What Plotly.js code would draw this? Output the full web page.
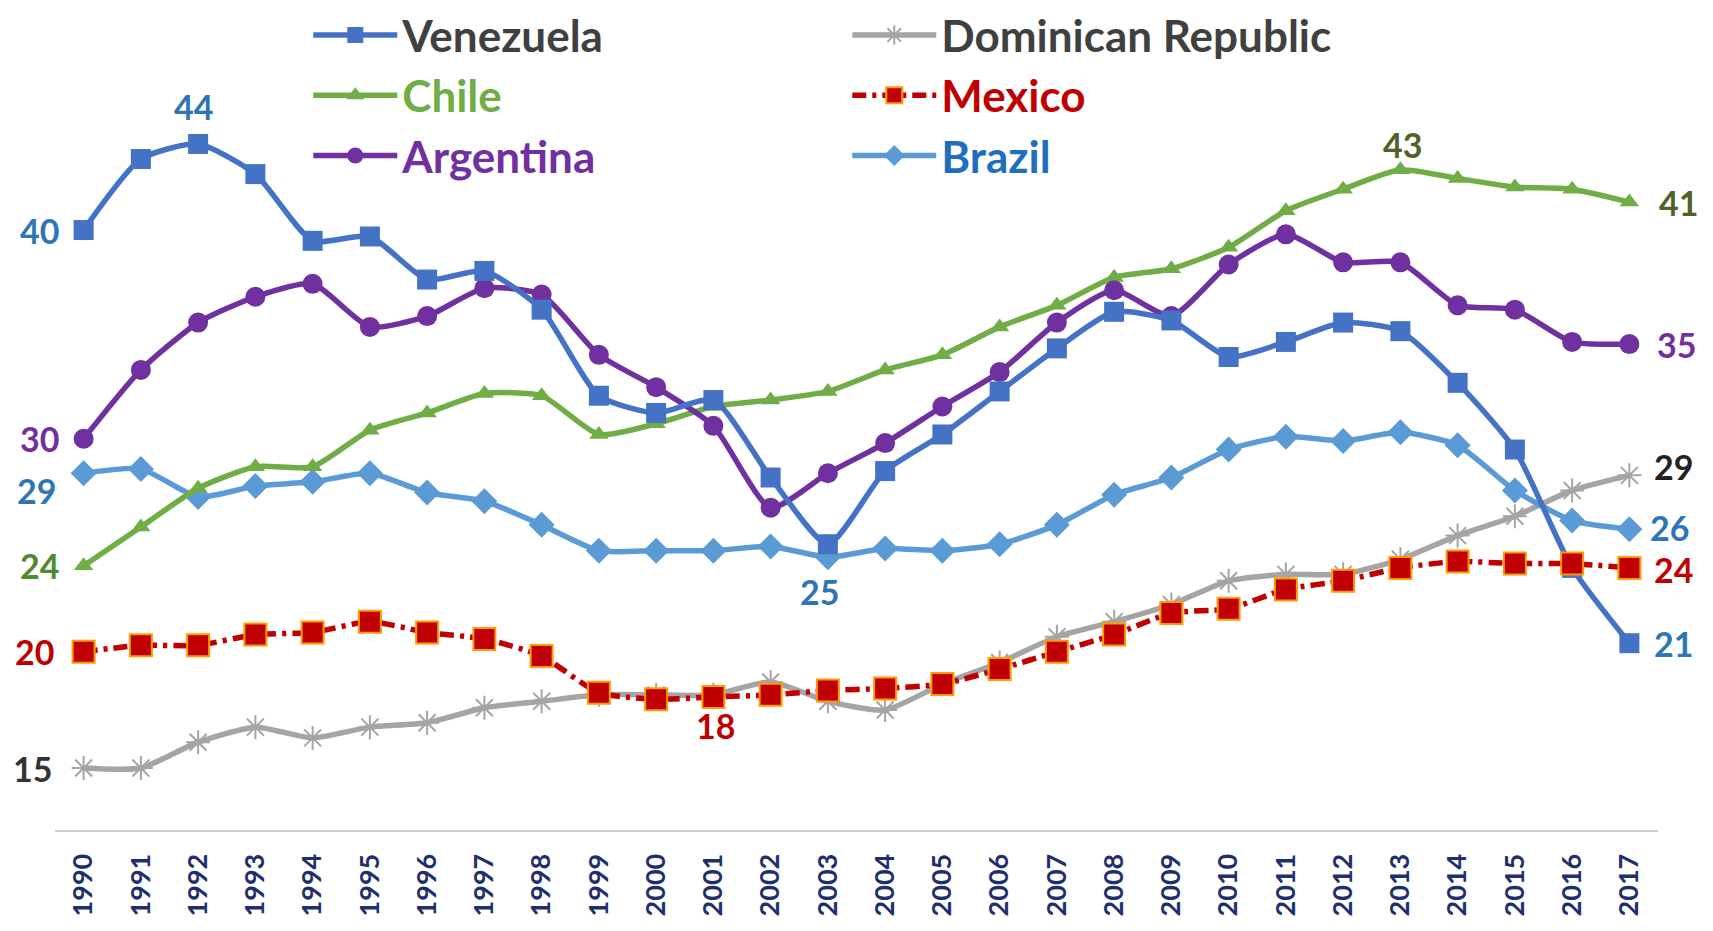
<!DOCTYPE html>
<html>
<head>
<meta charset="utf-8">
<script src="https://cdn.plot.ly/plotly-3.0.1.min.js"></script>
<style>
  html, body { margin: 0; padding: 0; background: #ffffff; }
  #chart { width: 1713px; height: 931px; }
</style>
</head>
<body>
<div id="chart"></div>
<script>
// ---------------- DATA ----------------
const years = [1990,1991,1992,1993,1994,1995,1996,1997,1998,1999,2000,2001,2002,2003,2004,2005,2006,2007,2008,2009,2010,2011,2012,2013,2014,2015,2016,2017];
const yearLabels = years.map(String);

const venezuela = [40.0,43.3,44.0,42.6,39.5,39.7,37.7,38.1,36.3,32.3,31.5,32.1,28.5,25.4,28.8,30.5,32.5,34.5,36.2,35.8,34.1,34.8,35.7,35.3,32.9,29.8,24.3,20.8];
const dominican = [15.0,15.0,16.2,16.9,16.4,16.9,17.1,17.8,18.1,18.4,18.4,18.4,19.0,18.1,17.7,18.9,19.9,21.1,21.8,22.6,23.7,24.0,24.0,24.7,25.8,26.7,27.9,28.6];
const chile     = [24.4,26.2,28.0,29.0,29.0,30.7,31.5,32.4,32.3,30.5,31.0,31.8,32.1,32.5,33.5,34.2,35.5,36.5,37.8,38.2,39.2,40.9,41.9,42.8,42.4,42.0,41.9,41.3];
const mexico    = [20.4,20.7,20.7,21.2,21.3,21.8,21.3,21.0,20.2,18.5,18.2,18.3,18.4,18.6,18.7,18.9,19.6,20.4,21.2,22.2,22.4,23.3,23.7,24.3,24.6,24.5,24.5,24.3];
const argentina = [30.3,33.5,35.7,36.9,37.5,35.5,36.0,37.3,37.0,34.2,32.7,30.9,27.1,28.7,30.1,31.8,33.4,35.7,37.2,36.0,38.4,39.8,38.5,38.5,36.5,36.3,34.8,34.7];
const brazil    = [28.7,28.9,27.6,28.1,28.3,28.7,27.8,27.4,26.3,25.1,25.1,25.1,25.3,24.8,25.2,25.1,25.4,26.3,27.7,28.5,29.8,30.4,30.2,30.6,30.0,27.9,26.5,26.1];

const seriesNames = ['Venezuela','Dominican Republic','Chile','Mexico','Argentina','Brazil'];

// ---------------- STYLE ----------------
const FONT = 'Lato, "Open Sans", "DejaVu Sans", sans-serif';
const C = {
  ven: '#4472C4', dom: '#A5A5A5', chi: '#70AD47', mex: '#C00000', arg: '#7030A0', bra: '#5B9BD5'
};
const legendTextColor = {
  'Venezuela': '#404040', 'Dominican Republic': '#404040', 'Chile': '#70AD47',
  'Mexico': '#C00000', 'Argentina': '#7030A0', 'Brazil': '#1F6FC0'
};
function lname(n) { return '<span style="color:' + legendTextColor[n] + '">' + n + '</span>'; }

const base = { x: years, mode: 'lines+markers', hoverinfo: 'skip', cliponaxis: false };
function sp() { return { shape: 'spline', smoothing: 0.6, width: 5.5 }; }

const traces = [
  Object.assign({}, base, { y: dominican, name: lname(seriesNames[1]), legendrank: 2,
    line: Object.assign(sp(), { color: C.dom }),
    marker: { symbol: 'asterisk-open', size: 20, color: C.dom, line: { color: C.dom, width: 2 } } }),
  Object.assign({}, base, { y: brazil, name: lname(seriesNames[5]), legendrank: 6,
    line: Object.assign(sp(), { color: C.bra }),
    marker: { symbol: 'diamond', size: 20, color: C.bra } }),
  Object.assign({}, base, { y: chile, name: lname(seriesNames[2]), legendrank: 3,
    line: Object.assign(sp(), { color: C.chi }),
    marker: { symbol: 'triangle-up', size: 17, color: C.chi } }),
  Object.assign({}, base, { y: argentina, name: lname(seriesNames[4]), legendrank: 5,
    line: Object.assign(sp(), { color: C.arg }),
    marker: { symbol: 'circle', size: 20, color: C.arg } }),
  Object.assign({}, base, { y: venezuela, name: lname(seriesNames[0]), legendrank: 1,
    line: Object.assign(sp(), { color: C.ven }),
    marker: { symbol: 'square', size: 20, color: C.ven } }),
  Object.assign({}, base, { y: mexico, name: lname(seriesNames[3]), legendrank: 4,
    line: Object.assign(sp(), { color: C.mex, dash: '14px,6px,4px,6px' }),
    marker: { symbol: 'square', size: 22, color: C.mex, line: { color: '#FF9A00', width: 2 } } })
];

// data labels (value read from the series, text rounded)
function lab(series, i, color, xs, ys) {
  return { x: years[i], y: series[i], xref: 'x', yref: 'y', text: String(Math.round(series[i])),
    showarrow: false, xanchor: 'center', yanchor: 'middle', xshift: xs, yshift: ys,
    font: { family: FONT, size: 34, color: color, weight: 700 } };
}
const last = years.length - 1;
const iOf = y => years.indexOf(y);
const annotations = [
  lab(venezuela, iOf(1992), '#2E75B6', -5, 37),
  lab(venezuela, 0, '#2E75B6', -44, 0),
  lab(argentina, 0, '#7030A0', -44, 0),
  lab(brazil, 0, '#2E75B6', -47, -17),
  lab(chile, 0, '#4E8A2E', -44, 0),
  lab(mexico, 0, '#C00000', -49, 0),
  lab(dominican, 0, '#333333', -51, 0),
  lab(brazil, iOf(2003), '#2E75B6', -8, -34),
  lab(mexico, iOf(2001), '#C00000', 2, -28),
  lab(chile, iOf(2013), '#4F6228', 2, 25),
  lab(chile, last, '#4F6228', 49, 0),
  lab(argentina, last, '#7030A0', 47, 0),
  lab(dominican, last, '#222222', 44, 9),
  lab(brazil, last, '#2E75B6', 40, 2),
  lab(mexico, last, '#C00000', 44, -2),
  lab(venezuela, last, '#2E75B6', 44, 0)
];

const layout = {
  width: 1713, height: 931,
  paper_bgcolor: '#ffffff', plot_bgcolor: '#ffffff',
  margin: { l: 55, r: 55, t: 0, b: 101 },
  font: { family: FONT },
  showlegend: true,
  legend: {
    orientation: 'h', x: 0.158, xanchor: 'left', y: 1.0, yanchor: 'top',
    bgcolor: 'rgba(0,0,0,0)',
    font: { family: FONT, size: 44, color: '#404040', weight: 700 },
    entrywidth: 440, entrywidthmode: 'pixels', itemwidth: 84,
    traceorder: 'normal'
  },
  xaxis: {
    range: [1989.5, 2017.5], tickmode: 'array', tickvals: years, ticktext: yearLabels,
    tickangle: -90, ticks: '', ticklabelstandoff: 11,
    tickfont: { family: FONT, size: 27, color: '#1F2F6E', weight: 700 },
    showgrid: false, zeroline: false, showline: true, linecolor: '#C9D0DC', linewidth: 2,
    fixedrange: true
  },
  yaxis: {
    range: [12.12, 50.69], showgrid: false, zeroline: false, showline: false,
    showticklabels: false, ticks: '', fixedrange: true
  },
  annotations: annotations
};

Plotly.newPlot('chart', traces, layout, { displayModeBar: false, staticPlot: true });
</script>
</body>
</html>
